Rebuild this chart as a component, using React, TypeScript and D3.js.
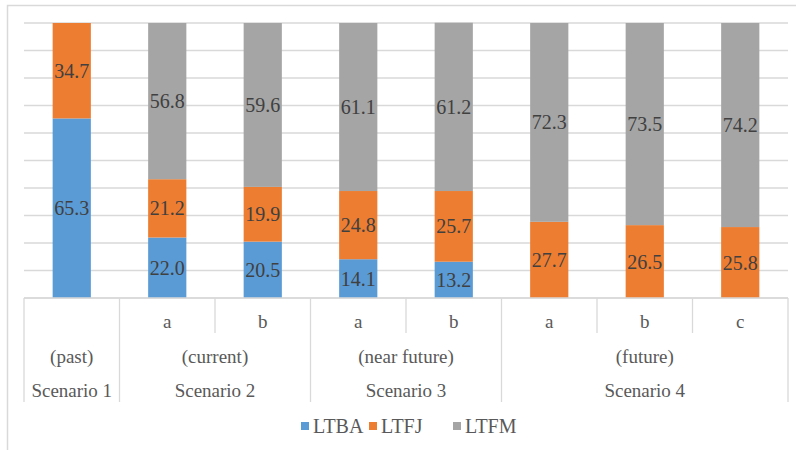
import React from "react";
import * as d3 from "d3";

const bars = ["1", "2a", "2b", "3a", "3b", "4a", "4b", "4c"];
const subLabels = ["", "a", "b", "a", "b", "a", "b", "c"];
const LTBA = [65.3, 22.0, 20.5, 14.1, 13.2, 0, 0, 0];
const LTFJ = [34.7, 21.2, 19.9, 24.8, 25.7, 27.7, 26.5, 25.8];
const LTFM = [0, 56.8, 59.6, 61.1, 61.2, 72.3, 73.5, 74.2];
const groups = [
  { name: "Scenario 1", period: "(past)", start: 0, count: 1 },
  { name: "Scenario 2", period: "(current)", start: 1, count: 2 },
  { name: "Scenario 3", period: "(near future)", start: 3, count: 2 },
  { name: "Scenario 4", period: "(future)", start: 5, count: 3 },
];
const seriesNames = ["LTBA", "LTFJ", "LTFM"];
const colors = ["#5b9bd5", "#ed7d31", "#a5a5a5"];
const yTicks = [0, 10, 20, 30, 40, 50, 60, 70, 80, 90, 100];

export default function App() {
  const W = 796, H = 450;
  const left = 24, right = 788, top = 23, bottom = 298;
  const x = d3.scaleBand().domain(bars).range([left, right]).paddingInner(0.6).paddingOuter(0.3);
  const step = x.step();
  const y = d3.scaleLinear().domain([0, 100]).range([bottom, top]);
  const rows = bars.map((b, i) => ({ key: b, LTBA: LTBA[i], LTFJ: LTFJ[i], LTFM: LTFM[i] }));
  const stack = d3.stack<any>().keys(seriesNames)(rows);
  const font = "Liberation Serif, Tinos, Times New Roman, DejaVu Serif, serif";
  const grid = "#d9d9d9";
  const edgeX = (i: number) => left + i * step;
  const legendX = [301, 369, 453];
  const ts = (size: number, color: string) => ({ fontFamily: font, fontSize: size + "px", fill: color });

  return (
    <svg width={W} height={H} style={{ position: "absolute", left: 0, top: 0, background: "#fff" }}>
      <rect x={7.5} y={5.5} width={820} height={470} fill="none" stroke="#d9d9d9" strokeWidth={1.5} />
      {yTicks.map((t) => (
        <line key={t} x1={left} x2={right} y1={y(t)} y2={y(t)} stroke={grid} strokeWidth={1.3} />
      ))}
      {stack.map((s, si) =>
        s.map((d, i) =>
          d[1] - d[0] > 0 ? (
            <g key={si + "-" + i}>
              <rect x={x(bars[i])} width={x.bandwidth()} y={y(d[1])} height={y(d[0]) - y(d[1])} fill={colors[si]} />
              <text
                x={(x(bars[i]) as number) + x.bandwidth() / 2}
                y={(y(d[0]) + y(d[1])) / 2 + 7}
                textAnchor="middle"
                style={ts(20, "#404040")}
              >
                {(d[1] - d[0]).toFixed(1)}
              </text>
            </g>
          ) : null
        )
      )}
      <line x1={left} x2={right} y1={bottom} y2={bottom} stroke={grid} strokeWidth={1.3} />
      {bars.map((b, i) =>
        subLabels[i] ? (
          <text key={"s" + i} x={(x(b) as number) + x.bandwidth() / 2} y={328} textAnchor="middle" style={ts(19, "#595959")}>
            {subLabels[i]}
          </text>
        ) : null
      )}
      {bars.map((b, i) => {
        const isGroupEdge = groups.some((g) => g.start === i);
        return (
          <line key={"e" + i} x1={edgeX(i)} x2={edgeX(i)} y1={bottom} y2={isGroupEdge ? 402 : 333} stroke={grid} strokeWidth={1.3} />
        );
      })}
      <line x1={right} x2={right} y1={bottom} y2={402} stroke={grid} strokeWidth={1.3} />
      {groups.map((g) => {
        const cx = edgeX(g.start) + (g.count * step) / 2;
        return (
          <g key={g.name}>
            <text x={cx} y={363} textAnchor="middle" style={ts(19, "#595959")}>{g.period}</text>
            <text x={cx} y={397} textAnchor="middle" style={ts(19, "#595959")}>{g.name}</text>
          </g>
        );
      })}
      {seriesNames.map((n, i) => (
        <g key={n}>
          <rect x={legendX[i]} y={422} width={8} height={8} fill={colors[i]} />
          <text x={legendX[i] + 12} y={433} style={ts(20, "#595959")}>{n}</text>
        </g>
      ))}
    </svg>
  );
}
